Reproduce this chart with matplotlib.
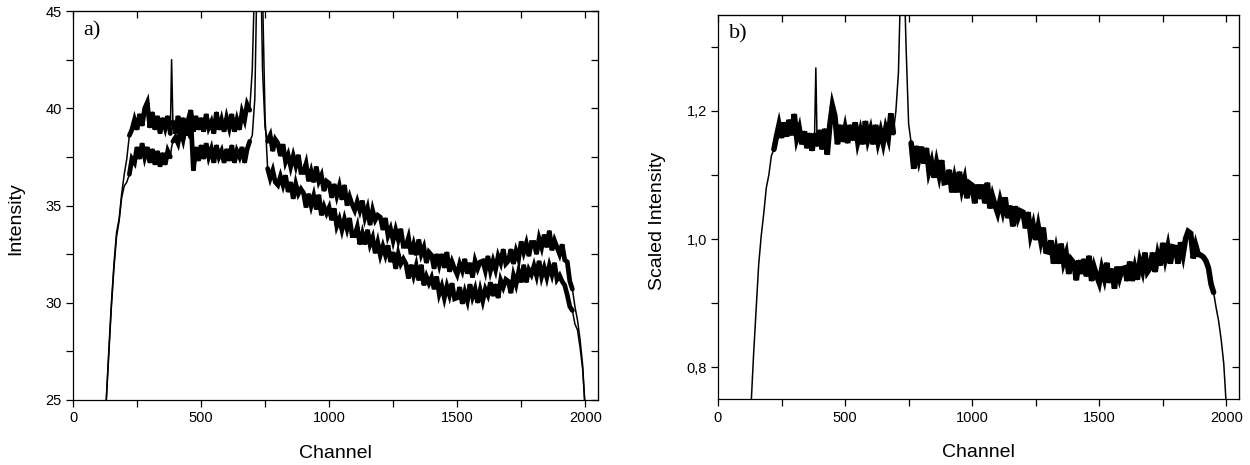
import numpy as np
import matplotlib
matplotlib.use("Agg")
import matplotlib.pyplot as plt
from matplotlib.ticker import MultipleLocator, FuncFormatter

plt.rcParams['font.family'] = ['Liberation Sans', 'DejaVu Sans']

# channel grid (every 10 channels, plus the narrow line at 385)
channel = np.array(list(range(130, 381, 10)) + [385] + list(range(390, 2001, 10)))

# a) raw spectra, upper and lower trace (values read off the figure)
upper = [25.0, 27.6, 30.0, 32.0, 33.6, 34.3, 35.6, 36.6, 37.4, 38.6, 38.9,
         39.4, 38.9, 39.7, 39.1, 40.0, 40.3, 39.0, 39.8, 38.9, 39.6, 38.7, 39.5, 39.0, 39.6, 38.7,
         42.5,
         39.3, 38.7, 39.6, 38.9, 39.5, 38.6, 39.4, 39.9, 38.8, 39.6, 38.9,
         39.5, 38.8, 39.7, 39.0, 39.3, 38.7, 39.8, 38.9, 39.4, 38.8,
         39.5, 39.0, 39.7, 38.8, 39.4, 38.9, 39.8, 39.4, 40.2, 39.9,
         42.0, 47.0, 55.0, 50.0, 42.0, 39.0, 38.3, 38.6, 37.8, 38.4,
         38.2, 37.55, 38.15, 37.25, 37.6, 37.0, 37.55, 37.05, 37.6, 36.7,
         36.7, 37.15, 36.25, 36.75, 36.2, 37.0, 36.25, 36.55, 35.75, 36.25,
         36.15, 35.4, 36.1, 35.5, 36.0, 35.3, 36.05, 35.0, 35.45, 35.05,
         34.75, 35.2, 34.75, 35.25, 34.4, 34.85, 34.0, 34.75, 34.25, 34.5,
         34.4, 33.75, 34.35, 33.45, 33.8, 33.2, 33.75, 33.25, 33.8, 32.9,
         32.9, 33.35, 32.5, 33.0, 32.45, 33.25, 32.5, 32.85, 32.05, 32.6,
         32.45, 31.75, 32.5, 31.95, 32.5, 31.8, 32.6, 31.6, 32.1, 31.75,
         31.45, 32.0, 31.65, 32.25, 31.5, 32.05, 31.3, 32.15, 31.75, 32.1,
         32.15, 31.65, 32.4, 31.65, 32.15, 31.7, 32.4, 32.05, 32.75, 32.0,
         32.15, 32.75, 32.0, 32.65, 32.25, 33.15, 32.6, 33.05, 32.4, 33.1,
         33.1, 32.5, 33.3, 32.85, 33.5, 32.85, 33.7, 32.7, 33.2, 32.85,
         32.5, 33.0, 32.2, 32.1, 31.1, 30.7, 29.8, 29.1, 28.1, 26.8,
         24.5]

lower = [25.0, 27.4, 29.8, 31.8, 33.4, 34.2, 35.4, 36.0, 36.2, 36.6, 37.4,
         37.2, 38.0, 37.4, 38.2, 37.5, 38.0, 37.2, 37.9, 37.1, 37.8, 37.0, 37.7, 37.1, 37.8, 37.5,
         38.0,
         38.3, 38.5, 38.2, 38.9, 38.4, 39.1, 38.8, 39.5, 36.8, 38.0, 37.3,
         38.1, 37.4, 38.2, 37.5, 37.9, 37.2, 38.1, 37.5, 37.8, 37.2,
         37.9, 37.3, 38.1, 37.2, 37.8, 37.5, 38.0, 37.2, 37.9, 38.3,
         38.6, 40.5, 48.0, 55.0, 46.0, 39.5, 36.9, 36.4, 36.8, 36.2,
         36.05, 36.5, 36.05, 36.55, 35.7, 36.2, 35.35, 36.1, 35.6, 35.85,
         35.65, 34.9, 35.6, 35.0, 35.5, 34.8, 35.55, 34.5, 34.95, 34.6,
         34.9, 34.25, 34.85, 33.95, 34.3, 33.75, 34.3, 33.8, 34.35, 33.45,
         33.45, 33.9, 33.0, 33.55, 33.0, 33.75, 33.0, 33.35, 32.55, 33.1,
         32.45, 32.9, 32.45, 32.95, 32.1, 32.6, 31.75, 32.5, 32.0, 32.25,
         32.0, 31.25, 31.95, 31.4, 31.9, 31.15, 31.95, 30.9, 31.35, 31.0,
         31.3, 30.7, 31.35, 30.45, 30.85, 30.25, 30.85, 30.4, 31.0, 30.2,
         30.25, 30.8, 29.95, 30.55, 30.1, 30.95, 30.3, 30.7, 30.0, 30.65,
         30.1, 30.7, 30.4, 31.05, 30.35, 30.95, 30.25, 31.15, 30.8, 31.2,
         31.1, 30.5, 31.4, 30.95, 31.6, 31.05, 31.95, 31.05, 31.7, 31.45,
         31.9, 31.4, 32.15, 31.35, 31.8, 31.3, 31.9, 31.45, 32.05, 31.2,
         31.4, 31.1, 30.9, 30.4, 29.8, 29.6, 28.9, 28.6, 27.7, 26.6,
         24.5]

# b) scaled spectrum
scaled = [0.74, 0.82, 0.89, 0.96, 1.005, 1.04, 1.08, 1.10, 1.13, 1.14, 1.16,
          1.178, 1.158, 1.182, 1.160, 1.186, 1.162, 1.195, 1.158, 1.172, 1.148, 1.168, 1.142, 1.165, 1.138, 1.162,
          1.267,
          1.148, 1.170, 1.140, 1.172, 1.132, 1.178, 1.208, 1.192, 1.148, 1.178, 1.152,
          1.172, 1.150, 1.178, 1.154, 1.182, 1.152, 1.168, 1.148, 1.184, 1.156,
          1.170, 1.148, 1.178, 1.152, 1.168, 1.150, 1.172, 1.158, 1.196, 1.166,
          1.200, 1.260, 1.420, 1.450, 1.300, 1.180, 1.150, 1.110, 1.145, 1.125,
          1.144, 1.118, 1.142, 1.106, 1.120, 1.096, 1.119, 1.100, 1.123, 1.088,
          1.089, 1.108, 1.073, 1.094, 1.073, 1.105, 1.078, 1.093, 1.064, 1.087,
          1.084, 1.056, 1.085, 1.063, 1.085, 1.056, 1.088, 1.048, 1.067, 1.053,
          1.041, 1.060, 1.044, 1.065, 1.033, 1.052, 1.020, 1.051, 1.033, 1.044,
          1.042, 1.017, 1.042, 1.007, 1.022, 0.999, 1.020, 0.998, 1.018, 0.981,
          0.980, 0.998, 0.962, 0.983, 0.962, 0.993, 0.964, 0.977, 0.946, 0.968,
          0.963, 0.936, 0.967, 0.946, 0.969, 0.942, 0.974, 0.935, 0.956, 0.943,
          0.932, 0.954, 0.939, 0.963, 0.932, 0.954, 0.923, 0.957, 0.940, 0.954,
          0.955, 0.935, 0.965, 0.935, 0.955, 0.937, 0.965, 0.951, 0.979, 0.949,
          0.955, 0.979, 0.949, 0.975, 0.959, 0.994, 0.970, 0.988, 0.962, 0.988,
          0.987, 0.962, 0.995, 0.976, 1.001, 1.012, 1.009, 0.970, 0.990, 0.976,
          0.975, 0.972, 0.966, 0.955, 0.930, 0.917, 0.893, 0.872, 0.843, 0.806,
          0.74]

# noisy stretches of the spectrum (drawn as a dense band)
noisy = [(220, 380), (390, 690), (760, 1950)]


def draw_trace(ax, y, body_lw):
    y = np.asarray(y)
    for lo, hi in noisy:
        sel = (channel >= lo) & (channel <= hi)
        ax.plot(channel[sel], y[sel], color='black', lw=body_lw,
                solid_joinstyle='miter', solid_capstyle='round')
    ax.plot(channel, y, color='black', lw=1.1)


def style_axes(ax, ymajor, yminor, fmt=None):
    ax.set_xlim(0, 2050)
    ax.xaxis.set_major_locator(MultipleLocator(500))
    ax.xaxis.set_minor_locator(MultipleLocator(250))
    ax.yaxis.set_major_locator(MultipleLocator(ymajor))
    ax.yaxis.set_minor_locator(MultipleLocator(yminor))
    if fmt is not None:
        ax.yaxis.set_major_formatter(fmt)
    ax.tick_params(which='both', direction='out', length=5, width=0.9,
                   labelsize=10.5, top=False, right=False, pad=3)
    for s in ax.spines.values():
        s.set_linewidth(0.9)
    # mirrored ticks pointing inward
    top = ax.secondary_xaxis('top')
    top.xaxis.set_major_locator(MultipleLocator(500))
    top.xaxis.set_minor_locator(MultipleLocator(250))
    top.tick_params(which='both', direction='in', length=5, width=0.9, labeltop=False)
    right = ax.secondary_yaxis('right')
    right.yaxis.set_major_locator(MultipleLocator(ymajor))
    right.yaxis.set_minor_locator(MultipleLocator(yminor))
    right.tick_params(which='both', direction='in', length=5, width=0.9, labelright=False)
    ax.set_xlabel("Channel", fontsize=14)
    ax.xaxis.set_label_coords(0.5, -0.115)
    ax.xaxis.label.set_va('top')


fig = plt.figure(figsize=(12.5, 4.65), dpi=100)

ax1 = fig.add_axes([0.0584, 0.1398, 0.42, 0.8365])
draw_trace(ax1, upper, 3.4)
draw_trace(ax1, lower, 3.4)
ax1.set_ylim(25, 45)
style_axes(ax1, 5, 2.5)
ax1.set_ylabel("Intensity", fontsize=14)
ax1.yaxis.set_label_coords(-0.092, 0.465)
ax1.text(0.019, 0.975, "a)", transform=ax1.transAxes, va='top', ha='left',
         fontsize=16, family='Liberation Serif')

comma = FuncFormatter(lambda v, pos: ("%.1f" % v).replace('.', ','))
ax2 = fig.add_axes([0.5744, 0.1409, 0.4168, 0.8275])
draw_trace(ax2, scaled, 4.0)
ax2.set_ylim(0.75, 1.35)
style_axes(ax2, 0.2, 0.1, comma)
ax2.set_ylabel("Scaled Intensity", fontsize=14)
ax2.yaxis.set_label_coords(-0.1, 0.464)
ax2.text(0.021, 0.975, "b)", transform=ax2.transAxes, va='top', ha='left',
         fontsize=16, family='Liberation Serif')

fig.savefig("out.png", dpi=100)
